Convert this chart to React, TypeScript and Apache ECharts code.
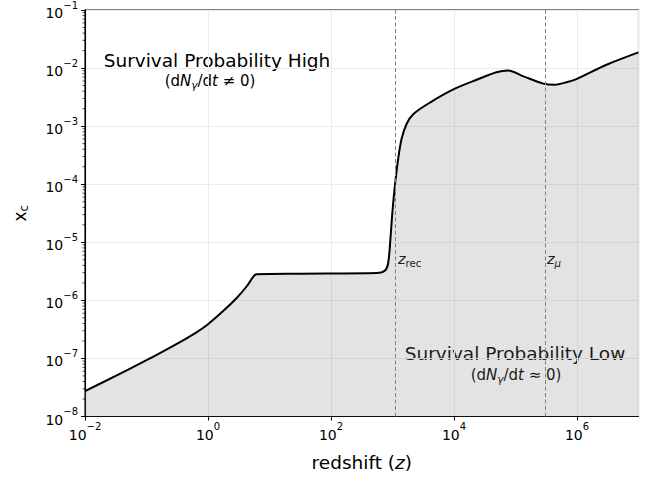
import React, { useEffect, useRef } from "react";
import * as echarts from "echarts";

const redshift = [0.01, 0.0316, 0.1, 0.2, 0.4, 0.63, 1, 1.78, 2.95, 4.27, 5.5, 6.17, 31, 560, 755, 850, 930, 1000, 1100, 1240, 1410, 1700, 2190, 4070, 9770, 23400, 49000, 76000, 135000, 282000, 437000, 676000, 977000, 3020000, 1e7];
const xc = [2.73e-8, 5.01e-8, 9.33e-8, 1.38e-7, 2.07e-7, 2.75e-7, 3.89e-7, 6.61e-7, 1.11e-6, 1.75e-6, 2.58e-6, 2.82e-6, 2.88e-6, 2.95e-6, 3.27e-6, 4.35e-6, 1.23e-5, 3.48e-5, 9.9e-5, 2.79e-4, 6.1e-4, 1.1e-3, 1.62e-3, 2.55e-3, 4.29e-3, 6.3e-3, 8.5e-3, 9.1e-3, 7.2e-3, 5.4e-3, 5.16e-3, 5.7e-3, 6.46e-3, 1.14e-2, 1.86e-2];
const zRec = 1100;
const zMu = 300000;
const xRange = [1e-2, 1e7];
const yRange = [1e-8, 1e-1];

const FONT = "DejaVu Sans";

function supLabel(v: number) {
  const e = Math.round(Math.log10(v));
  const s = e < 0 ? "\u2212" + Math.abs(e) : String(e);
  return "{b|10}{s|" + s + "}";
}

export default function App() {
  const ref = useRef<HTMLDivElement>(null);
  useEffect(() => {
    if (!ref.current) return;
    const chart = echarts.init(ref.current, undefined, { renderer: "svg" });
    const minorY: number[][] = [];
    for (let n = Math.round(Math.log10(yRange[0])); n < Math.round(Math.log10(yRange[1])); n++) {
      for (let k = 2; k <= 9; k++) minorY.push([xRange[0], k * Math.pow(10, n)]);
    }
    const labelRich = {
      b: { fontFamily: FONT, fontSize: 14, color: "#000", lineHeight: 20, verticalAlign: "bottom" },
      s: { fontFamily: FONT, fontSize: 10, color: "#000", lineHeight: 10, verticalAlign: "top" },
    };
    const annRich = (size: number) => ({
      n: { fontFamily: FONT, fontSize: size, fill: "#000", color: "#000", lineHeight: size + 6, verticalAlign: "bottom" },
      i: { fontFamily: FONT, fontStyle: "italic", fontSize: size, fill: "#000", color: "#000", lineHeight: size + 6, verticalAlign: "bottom" },
      sub: { fontFamily: FONT, fontSize: size * 0.7, fill: "#000", color: "#000", lineHeight: size * 0.7, verticalAlign: "bottom", padding: [0, 0, -2, 0] },
      subi: { fontFamily: FONT, fontStyle: "italic", fontSize: size * 0.7, fill: "#000", color: "#000", lineHeight: size * 0.7, verticalAlign: "bottom", padding: [0, 0, -2, 0] },
    });
    chart.setOption({
      animation: false,
      backgroundColor: "#fff",
      grid: { left: 85, right: 17.5, top: 6, bottom: 58, show: true, borderColor: "#000", borderWidth: 1.1, backgroundColor: "transparent" },
      xAxis: {
        type: "log",
        logBase: 10,
        min: xRange[0],
        max: xRange[1],
        interval: 2,
        name: "{n|redshift (}{i|z}{n|)}",
        nameLocation: "middle",
        nameGap: 31,
        nameTextStyle: { rich: annRich(18.5) },
        axisLine: { show: true, lineStyle: { color: "#000", width: 1.1 } },
        axisTick: { show: true, length: 4, lineStyle: { color: "#000", width: 1 } },
        axisLabel: { formatter: supLabel, rich: labelRich, margin: 5, showMaxLabel: false },
        splitLine: { show: true, lineStyle: { color: "#ebebeb", width: 1 } },
      },
      yAxis: {
        type: "log",
        logBase: 10,
        min: yRange[0],
        max: yRange[1],
        interval: 1,
        name: "{n|x}{sub|c}",
        nameLocation: "middle",
        nameGap: 57,
        nameRotate: 90,
        nameTextStyle: { rich: annRich(17) },
        axisLine: { show: true, lineStyle: { color: "#000", width: 1.1 } },
        axisTick: { show: true, length: 4, lineStyle: { color: "#000", width: 1 } },
        axisLabel: { formatter: supLabel, rich: labelRich, margin: 7 },
        splitLine: { show: true, lineStyle: { color: "#ebebeb", width: 1 } },
      },
      series: [
        {
          type: "line",
          data: redshift.map((z, i) => [z, xc[i]]),
          showSymbol: false,
          smooth: 0.3,
          lineStyle: { color: "#000", width: 2 },
          areaStyle: { color: "rgba(128,128,128,0.22)", opacity: 1, origin: "start" },
          z: 3,
          markLine: {
            silent: true,
            symbol: "none",
            label: { show: false },
            lineStyle: { color: "#808080", type: [4, 2.5], width: 1 },
            data: [{ xAxis: zRec }, { xAxis: zMu }],
          },
        },
        {
          type: "custom",
          data: minorY,
          clip: false,
          silent: true,
          renderItem: (_p: any, api: any) => {
            const pt = api.coord([api.value(0), api.value(1)]);
            return {
              type: "line",
              shape: { x1: pt[0] - 2.5, y1: pt[1], x2: pt[0], y2: pt[1] },
              style: { stroke: "#000", lineWidth: 0.7 },
            };
          },
          z: 5,
        },
      ],
      graphic: [
        { type: "text", x: 217, y: 60, style: { text: "Survival Probability High", font: "18.5px 'DejaVu Sans'", fill: "#000", align: "center", verticalAlign: "middle" } },
        { type: "text", x: 210, y: 78, style: { text: "{n|(d}{i|N}{subi|γ}{n|/d}{i|t}{n| ≠ 0)}", rich: annRich(15), align: "center", verticalAlign: "middle" } },
        { type: "text", x: 515, y: 353, style: { text: "Survival Probability Low", font: "18.5px 'DejaVu Sans'", fill: "#000", align: "center", verticalAlign: "middle" } },
        { type: "text", x: 516, y: 372, style: { text: "{n|(d}{i|N}{subi|γ}{n|/d}{i|t}{n| ≈ 0)}", rich: annRich(15), align: "center", verticalAlign: "middle" } },
        { type: "text", x: 398, y: 256, style: { text: "{i|z}{sub|rec}", rich: annRich(14.5), align: "left", verticalAlign: "middle" } },
        { type: "text", x: 547, y: 256, style: { text: "{i|z}{subi|μ}", rich: annRich(14.5), align: "left", verticalAlign: "middle" } },
      ],
    });
    return () => chart.dispose();
  }, []);
  return <div ref={ref} style={{ width: 656, height: 477, position: "absolute", left: 0, top: 0 }} />;
}
